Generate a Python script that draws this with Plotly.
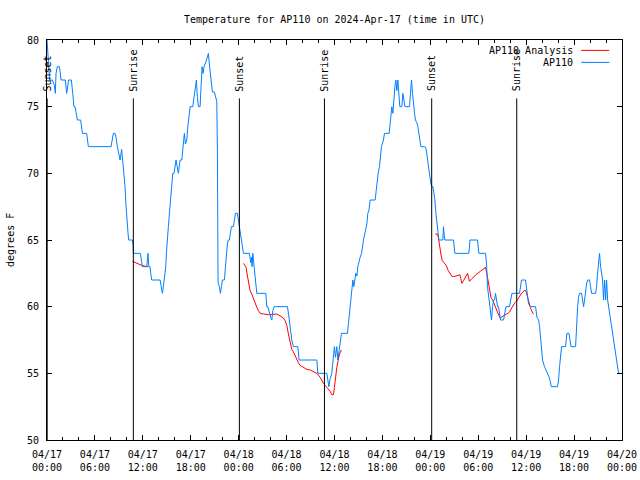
import plotly.graph_objects as go

# ---------------- data ----------------
blue_hours = [0.00, 0.08, 0.21, 0.33, 0.67, 0.92, 1.04, 1.13, 1.29, 1.54, 1.63, 1.75, 2.30, 2.46, 2.71, 3.05,
              3.22, 3.38, 3.51, 3.63, 3.80, 4.22, 4.34, 4.43, 4.97, 5.05, 5.18, 8.02, 8.14, 8.31, 8.52, 8.64,
              8.81, 9.02, 9.15, 9.35, 9.48, 9.65, 9.77, 9.90, 10.02, 10.15, 10.23, 10.69, 10.77, 10.82, 11.69,
              11.82, 11.94, 12.49, 12.65, 12.74, 12.90, 12.99, 13.11, 14.16, 14.28, 14.45, 14.57, 14.70, 14.87,
              14.95, 15.03, 15.20, 15.33, 15.50, 15.62, 15.75, 15.91, 16.16, 16.45, 16.66, 16.88, 17.08, 17.20,
              17.33, 17.50, 17.63, 17.79, 17.92, 18.25, 18.33, 18.45, 18.58, 18.71, 18.83, 18.96, 19.17, 19.29,
              19.42, 19.54, 19.67, 19.92, 20.08, 20.21, 20.33, 20.46, 20.58, 20.71, 20.96, 21.08, 21.26, 21.34,
              21.38, 21.42, 21.59, 21.71, 21.84, 21.96, 22.21, 22.34, 22.46, 22.59, 22.71, 22.84, 22.96, 23.09,
              23.34, 23.46, 23.59, 23.84, 23.97, 24.09, 24.27, 24.39, 24.60, 25.35, 25.52, 25.60, 25.68, 25.77,
              25.93, 26.06, 26.27, 27.40, 27.52, 27.65, 27.85, 28.02, 28.15, 28.28, 28.44, 30.11, 30.28, 30.44,
              30.65, 30.86, 31.41, 31.57, 33.79, 33.91, 35.04, 35.29, 35.45, 35.66, 35.83, 35.99, 36.12, 36.29,
              36.42, 36.54, 36.71, 36.87, 37.62, 37.75, 37.87, 38.09, 38.21, 38.30, 38.42, 38.55, 38.67, 38.80,
              38.92, 39.21, 39.38, 39.63, 39.88, 40.05, 40.17, 40.30, 40.47, 41.09, 41.22, 41.34, 41.47, 41.63,
              41.76, 41.88, 42.13, 42.26, 42.85, 42.97, 43.06, 43.18, 43.31, 43.43, 43.56, 43.68, 43.81, 43.93,
              44.06, 44.18, 44.43, 44.56, 44.69, 44.81, 45.39, 45.52, 45.64, 45.77, 45.89, 46.02, 46.14, 46.31,
              46.44, 46.56, 46.69, 46.82, 47.32, 47.44, 47.57, 47.69, 47.82, 47.94, 48.07, 48.20, 48.32, 48.45,
              48.57, 48.70, 48.82, 48.95, 49.07, 49.57, 49.65, 49.74, 49.82, 50.90, 51.07, 52.83, 52.96, 53.91,
              54.08, 54.91, 55.04, 55.16, 55.29, 55.41, 55.54, 55.66, 55.79, 55.92, 56.04, 56.16, 56.29, 56.42,
              56.54, 56.67, 56.79, 57.17, 57.34, 57.47, 57.92, 58.09, 58.22, 59.17, 59.30, 59.42, 59.92, 60.05,
              60.17, 60.30, 60.60, 61.18, 61.35, 61.56, 61.68, 61.80, 61.93, 62.05, 62.30, 62.72, 62.89, 63.02,
              63.14, 63.93, 64.06, 64.18, 64.31, 64.43, 64.93, 65.11, 65.36, 65.48, 65.61, 66.19, 66.31, 66.44,
              66.56, 66.69, 66.94, 67.06, 67.19, 67.31, 67.44, 67.56, 67.69, 67.94, 68.07, 68.19, 68.69, 68.82,
              68.94, 69.07, 69.19, 69.32, 69.44, 69.57, 69.69, 69.82, 69.95, 70.07, 70.20, 70.32, 70.45, 70.57,
              70.70, 70.82, 70.95, 71.07, 71.20, 71.32, 71.45, 71.57, 72.00]
blue_temps = [80, 79, 78, 77, 77, 76.6, 76, 77.5, 78, 78, 77.7, 77, 77, 76, 77, 77,
              76, 75, 75, 74.5, 74, 74, 73.5, 73, 73, 72.5, 72, 72, 72.5, 73, 73, 72.7,
              72, 71.5, 71, 71.8, 71, 70, 69, 67.5, 66, 65.5, 65, 65, 64.6, 64, 64,
              63.5, 63, 63, 64, 63, 63, 62.5, 62, 62, 61.5, 61, 61.5, 62, 63,
              64, 65, 66, 67, 68, 69.2, 70, 70, 71, 70, 71, 71, 72.3, 73,
              72.2, 72.5, 73.5, 74.5, 75, 75, 75.4, 76.1, 76.7, 77, 75.7, 75, 75, 77.2,
              78, 77.5, 78, 78.4, 78.7, 79, 78.2, 77.5, 76.8, 76.1, 76.1, 75.7, 75.4, 71.7,
              65, 61.8, 61.5, 61, 61.5, 62, 62, 63, 64.2, 64.7, 65, 65, 65.5, 66,
              66, 66.5, 67, 67, 66.5, 66.2, 65.5, 64.7, 64, 64, 63.3, 63.7, 63, 64,
              63, 62, 61, 61, 60, 60, 59.5, 59.2, 59, 59.7, 60, 60, 59.3, 58.5,
              57.5, 57, 57, 56, 56, 55, 55, 54, 54.6, 55, 56, 57, 56.2, 57,
              56, 56.5, 57.5, 58, 58, 58.7, 59.5, 60.5, 61.2, 62, 61.5, 62, 62.5, 62.3,
              63, 63.7, 64, 65, 65.7, 66.2, 67, 67.2, 68, 68, 68.7, 69.5, 70, 70.5,
              71.3, 72, 72.5, 73, 73, 73.8, 74.5, 75, 74.5, 75.7, 76.5, 77, 76.2, 77,
              76, 75, 75, 76, 75.5, 75, 75, 76, 77, 76, 75, 74.5, 74, 73.8,
              73.5, 73.1, 72.6, 72, 72, 71.9, 71.4, 70.8, 70.2, 69.7, 69.2, 69, 69, 68.5,
              68, 67, 66.2, 65.7, 65, 65, 66, 65.3, 65, 65, 64, 64, 65, 65,
              64, 64, 63.2, 61.5, 60.7, 60, 59.2, 59, 60, 60.5, 60.5, 61, 60.5, 60,
              60, 59.5, 59, 59, 59.7, 60, 60, 60.7, 61, 61, 61.5, 62, 62, 61.3,
              60.8, 60.2, 60, 60, 59.2, 59, 58.5, 57.5, 56.8, 56, 55.5, 55, 54.7, 54.4,
              54, 54, 54.5, 55.5, 56.5, 57, 57, 58, 58, 57.5, 57, 57, 59.2, 60,
              60.7, 61, 61, 60.5, 60, 60.5, 61.3, 61.7, 62, 62, 61.5, 61, 61, 61.5,
              62.5, 63.5, 64, 63, 62.5, 62, 60.5, 62, 60.5, 62, 60.5, 60, 59.5, 59,
              58.5, 58, 57.5, 57, 56.5, 56, 55.5, 55, 55]

# analysis segments (None separates the three runs)
red_hours = [10.69, 11.36, 11.86, 12.49, 12.69, None,
             24.60, 24.93, 25.10, 25.27, 25.43, 25.64, 25.85, 26.06, 26.27, 26.48, 26.69, 27.10, 27.73,
             28.78, 29.19, 29.61, 29.82, 30.03, 30.23, 30.44, 30.65, 30.86, 31.07, 31.28, 31.48, 31.69,
             32.11, 32.53, 32.95, 33.36, 33.79, 34.20, 34.62, 35.04, 35.45, 35.66, 35.87, 35.99, 36.12,
             36.29, 36.46, 36.62, 36.87, None,
             48.61, 48.90, 49.03, 49.15, 49.32, 49.49, 49.74, 49.99, 50.24, 50.49, 50.74, 51.24, 51.70,
             51.82, 51.95, 52.16, 52.41, 52.66, 52.78, 52.91, 53.20, 53.50, 53.83, 54.25, 54.66, 54.91,
             55.09, 55.29, 55.41, 55.59, 55.84, 56.00, 56.25, 56.50, 56.75, 56.96, 57.25, 57.59, 57.92,
             58.09, 58.34, 58.59, 58.84, 59.09, 59.35, 59.60, 59.85, 60.01, 60.17, 60.34, 60.51, 60.76, 60.93]
red_temps = [63.4, 63.2, 63.1, 63.0, 63.0, None,
             63.25, 62.95, 62.3, 61.7, 61.2, 60.95, 60.6, 60.2, 59.95, 59.7, 59.5, 59.45, 59.4,
             59.45, 59.3, 59.15, 58.95, 58.6, 57.95, 57.45, 56.8, 56.6, 56.3, 56.1, 55.8, 55.6,
             55.45, 55.3, 55.25, 55.15, 55.0, 54.7, 54.25, 53.95, 53.65, 53.4, 53.4, 53.95, 54.7,
             55.45, 55.95, 56.45, 56.75, None,
             65.45, 65.45, 65.1, 64.45, 63.95, 63.45, 63.3, 63.1, 62.7, 62.45, 62.25, 62.3, 62.4,
             62.1, 61.75, 61.95, 62.25, 62.5, 62.2, 61.9, 62.1, 62.3, 62.45, 62.65, 62.8, 62.95,
             62.45, 61.7, 61.2, 60.7, 60.45, 60.2, 59.7, 59.45, 59.15, 59.25, 59.35, 59.45, 59.6,
             59.8, 60.1, 60.3, 60.45, 60.7, 60.95, 61.1, 61.25, 61.1, 60.7, 60.3, 59.95, 59.6, 59.45]

event_hours = [0.02, 10.81, 24.09, 34.74, 48.17, 58.82]
event_names = ["Sunset", "Sunrise", "Sunset", "Sunrise", "Sunset", "Sunrise"]

tick_hours = [0, 6, 12, 18, 24, 30, 36, 42, 48, 54, 60, 66, 72]
tick_labels = ["04/17<br>00:00", "04/17<br>06:00", "04/17<br>12:00", "04/17<br>18:00",
               "04/18<br>00:00", "04/18<br>06:00", "04/18<br>12:00", "04/18<br>18:00",
               "04/19<br>00:00", "04/19<br>06:00", "04/19<br>12:00", "04/19<br>18:00",
               "04/20<br>00:00"]

series_names = ["AP110 Analysis", "AP110"]
series_colors = ["#ff0000", "#0080ff"]

FONT = "DejaVu Sans Mono"

fig = go.Figure()
fig.add_trace(go.Scatter(x=red_hours, y=red_temps, mode="lines", name=series_names[0],
                         line=dict(color=series_colors[0], width=1), connectgaps=False))
fig.add_trace(go.Scatter(x=blue_hours, y=blue_temps, mode="lines", name=series_names[1],
                         line=dict(color=series_colors[1], width=1)))

shapes = []
annotations = []
for h, name in zip(event_hours, event_names):
    shapes.append(dict(type="line", xref="x", yref="paper", x0=h, x1=h, y0=0, y1=0.854,
                       line=dict(color="black", width=1)))
    annotations.append(dict(x=h, xref="x", y=0.869, yref="paper", text=name, textangle=-90,
                            showarrow=False, xanchor="center", yanchor="bottom",
                            font=dict(family=FONT, size=10, color="black"), borderpad=0))

# manual legend (gnuplot style: text right-aligned, sample on the right)
legend_y = [0.974, 0.944]
for name, col, ly in zip(series_names, series_colors, legend_y):
    annotations.append(dict(x=0.917, xref="paper", y=ly, yref="paper", text=name, showarrow=False,
                            xanchor="right", yanchor="middle",
                            font=dict(family=FONT, size=10, color="black"), borderpad=0))
    shapes.append(dict(type="line", xref="paper", yref="paper", x0=0.929, x1=0.978, y0=ly, y1=ly,
                       line=dict(color=col, width=1)))

annotations.append(dict(x=-0.0644, xref="paper", y=0.5, yref="paper", text="degrees F", textangle=-90,
                        showarrow=False, xanchor="center", yanchor="middle",
                        font=dict(family=FONT, size=10, color="black")))

fig.update_layout(
    width=640, height=480,
    template="none",
    paper_bgcolor="white", plot_bgcolor="white",
    margin=dict(l=47, r=18, t=40, b=40, autoexpand=False),
    showlegend=False,
    title=dict(text="Temperature for AP110 on 2024-Apr-17 (time in UTC)", x=0.5, xref="paper",
               y=1 - 19 / 480, yref="container", xanchor="center", yanchor="middle",
               font=dict(family=FONT, size=10, color="black")),
    shapes=shapes,
    annotations=annotations,
    xaxis=dict(range=[0, 72], tickmode="array", tickvals=tick_hours, ticktext=tick_labels,
               automargin=False, ticklabelstandoff=5,
               ticks="inside", ticklen=5, tickcolor="black", showline=True, linecolor="black",
               linewidth=1, mirror="ticks", showgrid=False, zeroline=False,
               tickfont=dict(family=FONT, size=10, color="black"),
               minor=dict(tickmode="linear", tick0=0, dtick=2, ticks="inside", ticklen=3,
                          tickcolor="black", showgrid=False)),
    yaxis=dict(range=[50, 80], tickmode="linear", tick0=50, dtick=5, automargin=False,
               ticks="inside", ticklen=5, tickcolor="black", showline=True, linecolor="black",
               linewidth=1, mirror="ticks", showgrid=False, zeroline=False,
               ticklabelstandoff=5,
               tickfont=dict(family=FONT, size=10, color="black")),
)

fig.write_html("out.html",
               config={"displayModeBar": False},
               post_script="document.body.style.margin='0px'; document.body.style.overflow='hidden';")
